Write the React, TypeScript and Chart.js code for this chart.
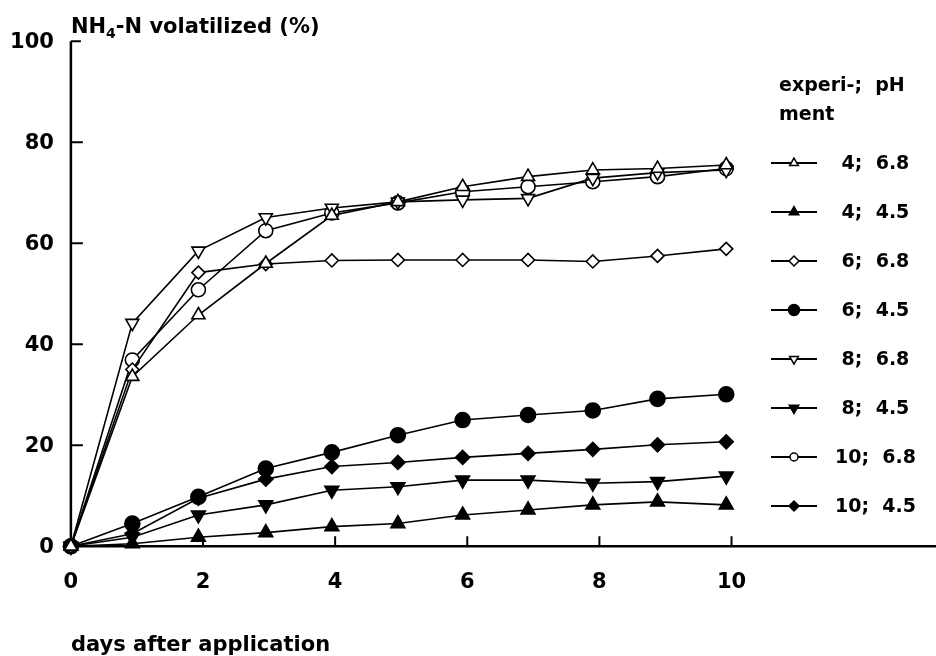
import React, { useEffect, useRef } from "react";
import { Chart, registerables, PointElement } from "chart.js";

Chart.register(...registerables);

// Sampling days after application
const days = [0, 0.93, 1.93, 2.95, 3.95, 4.95, 5.93, 6.92, 7.9, 8.88, 9.92];

// NH4-N volatilized (%) per experiment; pH
const exp4pH68 = [0, 33.6, 45.8, 56, 65.5, 68.2, 71.2, 73.2, 74.5, 74.8, 75.5];
const exp4pH45 = [0, 0.5, 1.8, 2.7, 3.9, 4.5, 6.2, 7.2, 8.2, 8.8, 8.2];
const exp6pH68 = [0, 35, 54.2, 55.9, 56.6, 56.7, 56.7, 56.7, 56.4, 57.5, 58.9];
const exp6pH45 = [0, 4.5, 9.8, 15.4, 18.6, 22, 25, 26, 26.9, 29.2, 30.1];
const exp8pH68 = [0, 44.2, 58.5, 65.1, 67, 68.2, 68.6, 68.9, 72.9, 74, 74.5];
const exp8pH45 = [0, 1.8, 6.2, 8.2, 11.1, 11.8, 13.1, 13.1, 12.5, 12.8, 13.9];
const exp10pH68 = [0, 36.9, 50.8, 62.5, 66, 68, 70.2, 71.2, 72.2, 73.2, 74.8];
const exp10pH45 = [0, 2.5, 9.5, 13.3, 15.8, 16.6, 17.6, 18.4, 19.2, 20.1, 20.7];

const legendExperiments = [" 4;", " 4;", " 6;", " 6;", " 8;", " 8;", "10;", "10;"];
const legendPH = ["6.8", "4.5", "6.8", "4.5", "6.8", "4.5", "6.8", "4.5"];

const xTicks = [0, 2, 4, 6, 8, 10];
const yTicks = [0, 20, 40, 60, 80, 100];

const titleMain = "NH";
const titleSub = "4";
const titleRest = "-N volatilized (%)";
const xTitle = "days after application";
const legendHead1 = "experi-;  pH";
const legendHead2 = "ment";

type Marker = {
  style: string;
  rotation: number;
  filled: boolean;
  radius: number;
  legendRadius: number;
};

const seriesValues = [exp4pH68, exp4pH45, exp6pH68, exp6pH45, exp8pH68, exp8pH45, exp10pH68, exp10pH45];

const markers: Marker[] = [
  { style: "triangle", rotation: 0, filled: false, radius: 7.5, legendRadius: 5 },
  { style: "triangle", rotation: 0, filled: true, radius: 8, legendRadius: 5.5 },
  { style: "rectRot", rotation: 0, filled: false, radius: 6.5, legendRadius: 5 },
  { style: "circle", rotation: 0, filled: true, radius: 7.5, legendRadius: 5.5 },
  { style: "triangle", rotation: 180, filled: false, radius: 7.5, legendRadius: 5 },
  { style: "triangle", rotation: 180, filled: true, radius: 8, legendRadius: 5.5 },
  { style: "circle", rotation: 0, filled: false, radius: 7, legendRadius: 4 },
  { style: "rectRot", rotation: 0, filled: true, radius: 7, legendRadius: 5 },
];

const FONT = "\"DejaVu Sans\", sans-serif";

const decorations = {
  id: "decorations",
  beforeDatasetsDraw(chart: any) {
    const { ctx, scales } = chart;
    const xs = scales.x;
    const ys = scales.y;
    const x0 = xs.getPixelForValue(0);
    const y0 = ys.getPixelForValue(0);
    const yTop = ys.getPixelForValue(100);
    ctx.save();
    ctx.strokeStyle = "#000";
    ctx.lineCap = "butt";
    ctx.lineWidth = 2.5;
    ctx.beginPath();
    ctx.moveTo(x0, yTop);
    ctx.lineTo(x0, y0 + 1);
    ctx.moveTo(x0 - 1, y0);
    ctx.lineTo(chart.width, y0);
    ctx.stroke();
    ctx.lineWidth = 2;
    ctx.beginPath();
    yTicks.forEach((v) => {
      if (v === 0) return;
      const py = ys.getPixelForValue(v);
      ctx.moveTo(x0, py);
      ctx.lineTo(x0 + (v === 100 ? 10 : 12), py);
    });
    xTicks.forEach((v) => {
      if (v === 0) return;
      const px = xs.getPixelForValue(v);
      ctx.moveTo(px, y0);
      ctx.lineTo(px, y0 - 10);
    });
    ctx.stroke();
    ctx.restore();
  },
  afterDraw(chart: any) {
    const { ctx, scales } = chart;
    const xs = scales.x;
    const ys = scales.y;
    const x0 = xs.getPixelForValue(0);
    const y0 = ys.getPixelForValue(0);
    ctx.save();
    ctx.fillStyle = "#000";
    ctx.font = `bold 21px ${FONT}`;

    // y tick labels
    ctx.textAlign = "right";
    ctx.textBaseline = "middle";
    yTicks.forEach((v) => {
      ctx.fillText(String(v), x0 - 17, ys.getPixelForValue(v) + 1);
    });

    // x tick labels
    ctx.textAlign = "center";
    xTicks.forEach((v) => {
      ctx.fillText(String(v), xs.getPixelForValue(v), y0 + 36);
    });

    // axis titles
    ctx.textAlign = "left";
    ctx.textBaseline = "alphabetic";
    ctx.fillText(xTitle, x0, y0 + 105);
    let tx = x0;
    const tb = 33;
    ctx.fillText(titleMain, tx, tb);
    tx += ctx.measureText(titleMain).width;
    ctx.font = `bold 14px ${FONT}`;
    ctx.fillText(titleSub, tx, tb + 5);
    tx += ctx.measureText(titleSub).width;
    ctx.font = `bold 21px ${FONT}`;
    ctx.fillText(titleRest, tx, tb);

    // legend
    ctx.font = `bold 19px ${FONT}`;
    ctx.textBaseline = "middle";
    ctx.fillText(legendHead1, 779, 86);
    ctx.fillText(legendHead2, 779, 115);
    const area = { left: 0, top: 0, right: chart.width, bottom: chart.height };
    markers.forEach((m, i) => {
      const ry = 163 + i * 49;
      ctx.strokeStyle = "#000";
      ctx.lineWidth = 2;
      ctx.beginPath();
      ctx.moveTo(771, ry);
      ctx.lineTo(817, ry);
      ctx.stroke();
      const pt: any = new PointElement({
        x: 794,
        y: ry,
        options: {
          pointStyle: m.style,
          radius: m.legendRadius,
          rotation: m.rotation,
          borderWidth: 1.5,
          borderColor: "#000",
          backgroundColor: m.filled ? "#000" : "#fff",
        },
      } as any);
      pt.draw(ctx, area);
      ctx.fillStyle = "#000";
      ctx.fillText(`${legendExperiments[i]}  ${legendPH[i]}`, 835, ry + 1);
    });
    ctx.restore();
  },
};

export default function App() {
  const canvasRef = useRef<HTMLCanvasElement | null>(null);

  useEffect(() => {
    document.body.style.margin = "0";
    const canvas = canvasRef.current;
    if (!canvas) return;
    const datasets = seriesValues.map((vals, i) => {
      const m = markers[i];
      return {
        label: `${legendExperiments[i].trim()} ${legendPH[i]}`,
        data: days.map((d, j) => ({ x: d, y: vals[j] })),
        borderColor: "#000",
        borderWidth: 1.6,
        pointStyle: m.style,
        pointRadius: m.radius,
        pointRotation: m.rotation,
        pointBorderColor: "#000",
        pointBorderWidth: 1.6,
        pointBackgroundColor: m.filled ? "#000" : "#fff",
        tension: 0,
        fill: false,
        clip: false as any,
      };
    });
    const chart = new Chart(canvas, {
      type: "line",
      data: { datasets: datasets as any },
      options: {
        animation: false,
        responsive: false,
        devicePixelRatio: 1,
        layout: { padding: { left: 70.9, right: 0, top: 41.3, bottom: 109.7 } },
        scales: {
          x: { type: "linear", min: 0, max: 12.95, display: false },
          y: { type: "linear", min: 0, max: 100, display: false },
        },
        plugins: {
          legend: { display: false },
          tooltip: { enabled: false },
        },
        events: [],
      },
      plugins: [decorations],
    });
    return () => chart.destroy();
  }, []);

  return <canvas ref={canvasRef} width={936} height={656} style={{ display: "block" }} />;
}
